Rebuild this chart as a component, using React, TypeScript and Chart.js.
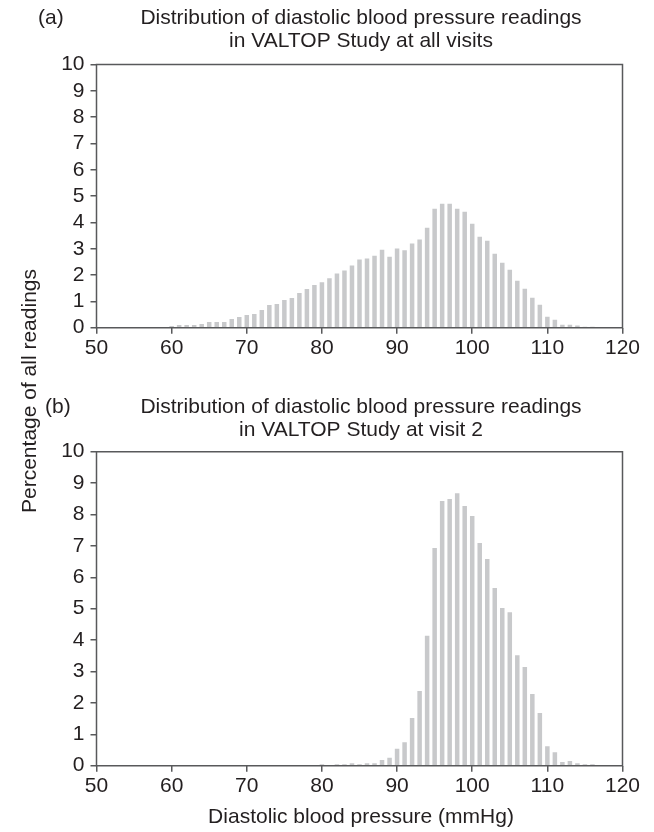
import React, { useEffect, useRef } from 'react';
import { Chart, registerables } from 'chart.js';

Chart.register(...registerables);

// ---------- data ----------
const bpAllVisits = [
  60, 61, 62, 63, 64, 65, 66, 67, 68, 69, 70, 71, 72, 73, 74, 75, 76, 77, 78, 79,
  80, 81, 82, 83, 84, 85, 86, 87, 88, 89, 90, 91, 92, 93, 94, 95, 96, 97, 98, 99,
  100, 101, 102, 103, 104, 105, 106, 107, 108, 109, 110, 111, 112, 113, 114, 115, 116,
];
const pctAllVisits = [
  0.06, 0.1, 0.1, 0.1, 0.14, 0.22, 0.22, 0.22, 0.33, 0.41, 0.48, 0.52, 0.67, 0.86, 0.9, 1.05, 1.13, 1.32, 1.47, 1.62,
  1.73, 1.88, 2.06, 2.17, 2.36, 2.59, 2.63, 2.73, 2.96, 2.7, 3.01, 2.94, 3.2, 3.35, 3.8, 4.52, 4.71, 4.71, 4.52, 4.41,
  3.95, 3.46, 3.3, 2.81, 2.47, 2.2, 1.78, 1.48, 1.14, 0.87, 0.42, 0.3, 0.11, 0.11, 0.08, 0.04, 0.04,
];

const bpVisit2 = [
  80, 81, 82, 83, 84, 85, 86, 87, 88, 89, 90, 91, 92, 93, 94, 95, 96, 97, 98, 99,
  100, 101, 102, 103, 104, 105, 106, 107, 108, 109, 110, 111, 112, 113, 114, 115, 116,
];
const pctVisit2 = [
  0.05, 0, 0.05, 0.05, 0.08, 0.05, 0.08, 0.08, 0.18, 0.25, 0.54, 0.75, 1.52, 2.38, 4.14, 6.93, 8.43, 8.49, 8.68, 8.27,
  7.95, 7.09, 6.58, 5.66, 5.02, 4.89, 3.52, 3.14, 2.28, 1.68, 0.62, 0.43, 0.12, 0.15, 0.08, 0.05, 0.05,
];

const xTickValues = [50, 60, 70, 80, 90, 100, 110, 120];
const yTickValues = [0, 1, 2, 3, 4, 5, 6, 7, 8, 9, 10];

const panelLabelA = '(a)';
const panelLabelB = '(b)';
const titleA = ['Distribution of diastolic blood pressure readings', 'in VALTOP Study at all visits'];
const titleB = ['Distribution of diastolic blood pressure readings', 'in VALTOP Study at visit 2'];
const xAxisTitle = 'Diastolic blood pressure (mmHg)';
const yAxisTitle = 'Percentage of all readings';

// ---------- style ----------
const FONT = '"Liberation Sans", Arial, Helvetica, sans-serif';
const FONT_SIZE = 21;
const TEXT_COLOR = '#231f20';
const AXIS_COLOR = '#58595b';
const BAR_COLOR = '#c8c9cb';
const W = 654;

type TextItem = { text: string; x: number; y: number; align: CanvasTextAlign; rotate?: boolean };

function textPlugin(id: string, items: TextItem[]) {
  return {
    id,
    afterDraw(chart: any) {
      const ctx = chart.ctx as CanvasRenderingContext2D;
      const { left, right, top, bottom } = chart.chartArea;
      ctx.save();
      ctx.strokeStyle = AXIS_COLOR;
      ctx.lineWidth = 1.5;
      ctx.beginPath();
      ctx.moveTo(left, top);
      ctx.lineTo(right, top);
      ctx.lineTo(right, bottom);
      ctx.lineTo(left, bottom);
      ctx.closePath();
      ctx.stroke();
      ctx.fillStyle = TEXT_COLOR;
      ctx.font = `${FONT_SIZE}px ${FONT}`;
      ctx.textBaseline = 'middle';
      for (const it of items) {
        ctx.save();
        ctx.textAlign = it.align;
        if (it.rotate) {
          ctx.translate(it.x, it.y);
          ctx.rotate(-Math.PI / 2);
          ctx.fillText(it.text, 0, 0);
        } else {
          ctx.fillText(it.text, it.x, it.y);
        }
        ctx.restore();
      }
      ctx.restore();
    },
  };
}

function makeConfig(xs: number[], ys: number[], padTop: number, padBottom: number, plugin: any): any {
  return {
    type: 'bar',
    data: {
      datasets: [
        {
          data: xs.map((x, i) => ({ x, y: ys[i] })),
          backgroundColor: BAR_COLOR,
          borderWidth: 0,
          barPercentage: 0.6,
          categoryPercentage: 1,
        },
      ],
    },
    options: {
      responsive: false,
      animation: false,
      events: [],
      layout: { padding: { left: 0, right: W - 622.5, top: padTop, bottom: padBottom } },
      plugins: { legend: { display: false }, tooltip: { enabled: false }, title: { display: false } },
      scales: {
        x: {
          type: 'linear',
          min: xTickValues[0],
          max: xTickValues[xTickValues.length - 1],
          offset: false,
          afterBuildTicks: (s: any) => {
            s.ticks = xTickValues.map((v) => ({ value: v }));
          },
          afterFit: (s: any) => {
            s.height = 50;
          },
          grid: {
            offset: false,
            drawOnChartArea: false,
            drawTicks: true,
            tickLength: 6,
            color: AXIS_COLOR,
            lineWidth: 1.5,
          },
          border: { display: false },
          ticks: {
            color: TEXT_COLOR,
            font: { family: FONT, size: FONT_SIZE },
            padding: 2,
            maxRotation: 0,
            autoSkip: false,
          },
        },
        y: {
          type: 'linear',
          min: yTickValues[0],
          max: yTickValues[yTickValues.length - 1],
          afterBuildTicks: (s: any) => {
            s.ticks = yTickValues.map((v) => ({ value: v }));
          },
          afterFit: (s: any) => {
            s.width = 96.5;
          },
          grid: {
            drawOnChartArea: false,
            drawTicks: true,
            tickLength: 6,
            color: AXIS_COLOR,
            lineWidth: 1.5,
          },
          border: { display: false },
          ticks: {
            color: TEXT_COLOR,
            font: { family: FONT, size: FONT_SIZE },
            padding: 6,
            autoSkip: false,
          },
        },
      },
    },
    plugins: [plugin],
  };
}

export default function App() {
  const refA = useRef<HTMLCanvasElement>(null);
  const refB = useRef<HTMLCanvasElement>(null);

  useEffect(() => {
    const plotCenter = (96.5 + 622.5) / 2 + 1.5;
    const pluginA = textPlugin('textsA', [
      { text: panelLabelA, x: 38, y: 18, align: 'left' },
      { text: titleA[0], x: plotCenter, y: 18, align: 'center' },
      { text: titleA[1], x: plotCenter, y: 41, align: 'center' },
    ]);
    const pluginB = textPlugin('textsB', [
      { text: panelLabelB, x: 45, y: 407, align: 'left' },
      { text: titleB[0], x: plotCenter, y: 407, align: 'center' },
      { text: titleB[1], x: plotCenter, y: 430, align: 'center' },
      { text: xAxisTitle, x: plotCenter, y: 817, align: 'center' },
      { text: yAxisTitle, x: 30, y: 391, align: 'center', rotate: true },
    ]);
    const chartA = new Chart(refA.current!, makeConfig(bpAllVisits, pctAllVisits, 64.5, 400 - 327.7 - 50, pluginA));
    const chartB = new Chart(refB.current!, makeConfig(bpVisit2, pctVisit2, 451.7, 832 - 765.7 - 50, pluginB));
    return () => {
      chartA.destroy();
      chartB.destroy();
    };
  }, []);

  return (
    <div style={{ position: 'fixed', left: 0, top: 0, width: W, height: 832, background: '#fff' }}>
      <canvas ref={refB} width={W} height={832} style={{ position: 'absolute', left: 0, top: 0, width: W, height: 832 }} />
      <canvas ref={refA} width={W} height={400} style={{ position: 'absolute', left: 0, top: 0, width: W, height: 400 }} />
    </div>
  );
}
